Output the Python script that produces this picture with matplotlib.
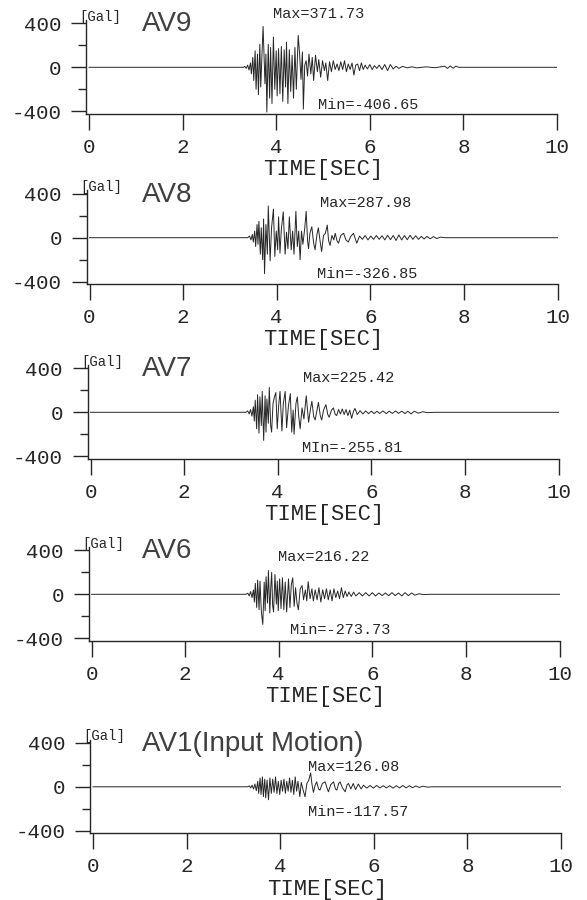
import matplotlib.pyplot as plt
import numpy as np

plt.rcParams['font.family'] = ['Liberation Mono', 'DejaVu Sans Mono']

# ---- data: (time [s], acceleration [Gal]) ----
names = ["AV9", "AV8", "AV7", "AV6", "AV1(Input Motion)"]
max_vals = [371.73, 287.98, 225.42, 216.22, 126.08]
min_vals = [-406.65, -326.85, -255.81, -273.73, -117.57]
min_words = ["Min", "Min", "MIn", "Min", "Min"]
xtick_vals = [0, 2, 4, 6, 8, 10]
ytick_vals = [-400, 0, 400]
ytick_labels = ["-400", "0", "400"]

av9 = [(0.0, 0), (3.30, 0), (3.33, 8), (3.36, -10), (3.39, 20), (3.42, -25), (3.45, 40),
       (3.47, -60), (3.50, 90), (3.52, -120), (3.55, 150), (3.57, -200), (3.60, 120),
       (3.62, -250), (3.65, 210), (3.67, -180), (3.70, 160), (3.72, 371.73), (3.76, -150),
       (3.78, 120), (3.80, -406.65), (3.83, 210), (3.86, -280), (3.88, 180), (3.91, -330),
       (3.94, 275), (3.97, -200), (4.00, 150), (4.02, -260), (4.05, 170), (4.08, -240),
       (4.11, 190), (4.14, -310), (4.17, 160), (4.20, -180), (4.22, 230), (4.25, -330),
       (4.28, 160), (4.31, -220), (4.34, 110), (4.37, -280), (4.40, 180), (4.43, -200),
       (4.47, 290), (4.50, 120), (4.53, -110), (4.56, 140), (4.58, -380), (4.61, 20),
       (4.64, 60), (4.67, -80), (4.70, 120), (4.74, -60), (4.77, 90), (4.80, -120),
       (4.84, 110), (4.88, -40), (4.91, 70), (4.95, -90), (4.99, 60), (5.03, -30),
       (5.06, 40), (5.10, -120), (5.14, 50), (5.18, -40), (5.22, 60), (5.26, -20),
       (5.30, 30), (5.34, -30), (5.38, 50), (5.42, -20), (5.46, 60), (5.50, -40),
       (5.54, 30), (5.58, -20), (5.62, 40), (5.66, -70), (5.70, 20), (5.74, 30),
       (5.78, -30), (5.82, 40), (5.86, -20), (5.90, 20), (5.95, -15), (6.00, 25),
       (6.05, -20), (6.10, 15), (6.15, -10), (6.20, 20), (6.26, -20), (6.32, 25),
       (6.38, -30), (6.44, 25), (6.50, -15), (6.56, 10), (6.62, -10), (6.70, 8),
       (6.80, -5), (6.90, 5), (7.00, -5), (7.20, 4), (7.40, -4), (7.60, 10), (7.66, -10),
       (7.72, 12), (7.78, -8), (7.84, 10), (7.90, 0), (10.0, 0)]

av8 = [(0.0, 0), (3.38, 0), (3.42, 15), (3.45, -20), (3.48, 30), (3.50, -40), (3.53, 60),
       (3.55, -80), (3.58, 120), (3.60, -60), (3.62, 150), (3.65, -150), (3.67, 90),
       (3.70, -200), (3.72, 170), (3.74, -326.85), (3.77, 120), (3.80, -150), (3.82, 287.98),
       (3.86, -210), (3.89, 90), (3.93, 260), (3.96, -170), (3.99, 60), (4.02, -110),
       (4.04, 190), (4.07, -140), (4.10, 80), (4.14, 235), (4.18, -150), (4.21, 50),
       (4.24, -100), (4.27, 190), (4.31, -110), (4.34, 60), (4.37, -150), (4.41, 240),
       (4.44, -80), (4.47, 60), (4.50, -200), (4.53, 60), (4.56, -60), (4.60, 90),
       (4.63, 240), (4.66, -30), (4.68, -100), (4.71, 40), (4.75, 100), (4.79, -50),
       (4.82, -110), (4.86, 30), (4.89, 90), (4.93, -40), (4.96, -125), (5.00, 20),
       (5.04, 40), (5.08, 115), (5.11, -30), (5.14, -70), (5.18, 20), (5.22, -20),
       (5.25, 40), (5.29, -30), (5.32, -50), (5.37, 20), (5.43, 40), (5.48, -20),
       (5.53, -40), (5.58, 10), (5.64, 40), (5.68, -10), (5.71, -50), (5.77, 15),
       (5.83, -15), (5.89, 20), (5.95, -20), (6.01, 15), (6.07, -15), (6.13, 20),
       (6.19, -15), (6.25, 18), (6.31, -20), (6.37, 22), (6.43, -18), (6.49, 20),
       (6.55, -25), (6.61, 25), (6.67, -20), (6.73, 20), (6.79, -18), (6.85, 22),
       (6.91, -15), (6.97, 18), (7.03, -15), (7.09, 12), (7.15, -12), (7.21, 12),
       (7.28, -10), (7.35, 10), (7.42, -8), (7.50, 5), (7.60, 0), (10.0, 0)]

av7 = [(0.0, 0), (3.32, 0), (3.36, 12), (3.39, -15), (3.42, 25), (3.45, -35), (3.48, 50),
       (3.50, -80), (3.52, 110), (3.55, -150), (3.57, 160), (3.60, -190), (3.62, 140),
       (3.65, -120), (3.67, 190), (3.70, -255.81), (3.73, 150), (3.75, -180), (3.77, 120),
       (3.80, -100), (3.82, 225.42), (3.85, -120), (3.87, -180), (3.90, 80), (3.93, 140),
       (3.96, 180), (3.99, -150), (4.02, 60), (4.05, 190), (4.09, -170), (4.12, 80),
       (4.16, 190), (4.19, -140), (4.23, 60), (4.27, 170), (4.30, -180), (4.33, 20),
       (4.35, -200), (4.39, 80), (4.42, 140), (4.45, -40), (4.48, -150), (4.52, 40),
       (4.56, -60), (4.61, 150), (4.66, -90), (4.70, 30), (4.73, 100), (4.77, -40),
       (4.80, -70), (4.84, 20), (4.87, 90), (4.91, -30), (4.94, -70), (4.98, 20),
       (5.03, 70), (5.07, -20), (5.10, -45), (5.15, 20), (5.19, 40), (5.23, -20),
       (5.26, -30), (5.30, 25), (5.34, -15), (5.38, 30), (5.42, -20), (5.46, 25),
       (5.50, -30), (5.54, 20), (5.58, -55), (5.62, 10), (5.65, 35), (5.70, -20),
       (5.76, 15), (5.82, -15), (5.88, 12), (5.94, -12), (6.00, 10), (6.06, -12),
       (6.12, 10), (6.18, -10), (6.25, 12), (6.32, -12), (6.38, 10), (6.45, -10),
       (6.52, 12), (6.58, -10), (6.65, 10), (6.72, -12), (6.78, 10), (6.85, -15),
       (6.92, 10), (7.00, -8), (7.10, 5), (7.20, -3), (7.35, 0), (10.0, 0)]

av6 = [(0.0, 0), (3.30, 0), (3.34, 10), (3.37, -15), (3.40, 25), (3.43, -30), (3.46, 40),
       (3.48, -70), (3.50, 100), (3.53, -120), (3.55, 130), (3.58, -140), (3.60, 120),
       (3.63, -160), (3.66, -273.73), (3.69, 110), (3.71, -150), (3.73, 160), (3.76, -80),
       (3.78, 216.22), (3.81, -170), (3.83, 60), (3.85, 200), (3.87, -100), (3.89, -160),
       (3.92, 180), (3.95, -90), (3.97, 120), (3.99, -150), (4.02, 140), (4.05, -130),
       (4.08, 150), (4.11, -140), (4.14, 110), (4.17, -160), (4.21, 140), (4.24, -120),
       (4.27, 90), (4.30, 150), (4.33, -110), (4.36, 60), (4.39, -80), (4.42, -140),
       (4.46, 50), (4.50, 80), (4.53, -50), (4.57, 40), (4.60, -60), (4.63, 115),
       (4.67, -40), (4.71, 50), (4.74, -60), (4.78, 40), (4.82, -50), (4.86, 60),
       (4.90, -70), (4.94, 40), (4.98, -40), (5.02, 50), (5.06, -50), (5.10, 40),
       (5.14, -60), (5.18, 50), (5.22, -30), (5.26, 30), (5.30, -40), (5.34, 60),
       (5.38, -30), (5.42, 30), (5.46, -20), (5.50, 20), (5.55, -20), (5.60, 20),
       (5.65, -15), (5.72, 15), (5.79, -15), (5.86, 15), (5.93, -15), (6.00, 15),
       (6.07, -15), (6.14, 12), (6.21, -12), (6.28, 12), (6.35, -12), (6.42, 15),
       (6.49, -12), (6.56, 12), (6.63, -15), (6.70, 15), (6.77, -12), (6.84, 12),
       (6.91, -8), (7.00, 5), (7.10, -3), (7.20, 0), (10.0, 0)]

av1 = [(0.0, 0), (3.30, 0), (3.34, 8), (3.37, -10), (3.40, 15), (3.43, -20), (3.46, 25),
       (3.49, -35), (3.52, 50), (3.54, -60), (3.57, 80), (3.59, -70), (3.62, 90),
       (3.64, -90), (3.67, 70), (3.69, -100), (3.72, 60), (3.75, -117.57), (3.78, 80),
       (3.81, -60), (3.84, 70), (3.87, -50), (3.90, 90), (3.93, -60), (3.96, 50),
       (3.99, -70), (4.02, 60), (4.05, -40), (4.08, 70), (4.11, -60), (4.14, 50),
       (4.17, -40), (4.20, 80), (4.23, -50), (4.26, 60), (4.29, -70), (4.32, 90),
       (4.35, -40), (4.38, 50), (4.42, -90), (4.45, 40), (4.49, -30), (4.53, -90),
       (4.57, 30), (4.61, 60), (4.65, 126.08), (4.68, 20), (4.71, -50), (4.75, 20),
       (4.78, 45), (4.82, -20), (4.85, -30), (4.90, 30), (4.96, 45), (5.00, -10),
       (5.03, -45), (5.08, 20), (5.14, 45), (5.18, -20), (5.21, -30), (5.25, 30),
       (5.28, 45), (5.33, -10), (5.39, -45), (5.43, 20), (5.46, 30), (5.51, -20),
       (5.56, 30), (5.61, -25), (5.67, 25), (5.73, -20), (5.78, 15), (5.85, -12),
       (5.92, 12), (5.99, -12), (6.06, 12), (6.13, -10), (6.20, 10), (6.27, -10),
       (6.34, 10), (6.41, -12), (6.48, 10), (6.55, -10), (6.62, 12), (6.69, -10),
       (6.76, 10), (6.83, -8), (6.90, 8), (6.97, -6), (7.05, 5), (7.15, -3),
       (7.25, 0), (10.0, 0)]

records = [av9, av8, av7, av6, av1]

# ---- layout (pixels of the 587x900 page) ----
W, H = 587, 900
PX_PER_S = 46.8
PX_PER_GAL = 44 / 400
zero_px = [67.3, 237.7, 412.3, 594.3, 786.8]
x0_px = [89, 89.5, 90.5, 91.5, 93]
max_pos = [(3.93, 485), (4.93, 313), (4.54, 309), (3.99, 342), (4.59, 182)]
min_pos = [(4.89, -340), (4.86, -333), (4.52, -327), (4.25, -325), (4.59, -233)]

ink = '#262626'
fig = plt.figure(figsize=(W / 100, H / 100), dpi=100)

for i, rec in enumerate(records):
    t, acc = np.array(rec).T
    left = (x0_px[i] - 0.06 * PX_PER_S) / W
    bottom = 1 - (zero_px[i] + 420 * PX_PER_GAL) / H
    ax = fig.add_axes([left, bottom, 10.06 * PX_PER_S / W, 850 * PX_PER_GAL / H])

    ax.plot(t, acc, color=ink, linewidth=0.7)
    ax.set_xlim(-0.06, 10)
    ax.set_ylim(-420, 430)

    for s in ['top', 'right']:
        ax.spines[s].set_visible(False)
    for s in ['left', 'bottom']:
        ax.spines[s].set_linewidth(1.0)
        ax.spines[s].set_color(ink)

    ax.set_xticks(xtick_vals)
    ax.set_yticks(ytick_vals)
    ax.set_yticklabels(ytick_labels)
    ax.set_yticks([-200, 200], minor=True)
    ax.tick_params(axis='x', length=11.5, width=1.0, pad=6, labelsize=15,
                   color=ink, labelcolor=ink)
    ax.tick_params(axis='y', which='major', length=10.8, width=1.0, pad=7,
                   labelsize=15, color=ink, labelcolor=ink)
    ax.tick_params(axis='y', which='minor', length=5.8, width=1.0, color=ink)

    # panel annotations
    title_x = (142 - x0_px[i]) / PX_PER_S
    ax.text(title_x, 328, names[i], family='Liberation Sans', fontsize=20,
            color='#404040', va='baseline', ha='left', clip_on=False)
    ax.text(-0.2, 395, '[Gal]', fontsize=10, color=ink, va='bottom', ha='left',
            clip_on=False)
    ax.text(max_pos[i][0], max_pos[i][1], f'Max={max_vals[i]:.2f}', fontsize=11,
            color=ink, va='center', ha='left', clip_on=False)
    ax.text(min_pos[i][0], min_pos[i][1], f'{min_words[i]}={min_vals[i]:.2f}',
            fontsize=11, color=ink, va='center', ha='left', clip_on=False)
    ax.text(5, -0.6, 'TIME[SEC]', transform=ax.get_xaxis_transform(), fontsize=16,
            color=ink, ha='center', va='center')

fig.savefig('out.png', dpi=100)
